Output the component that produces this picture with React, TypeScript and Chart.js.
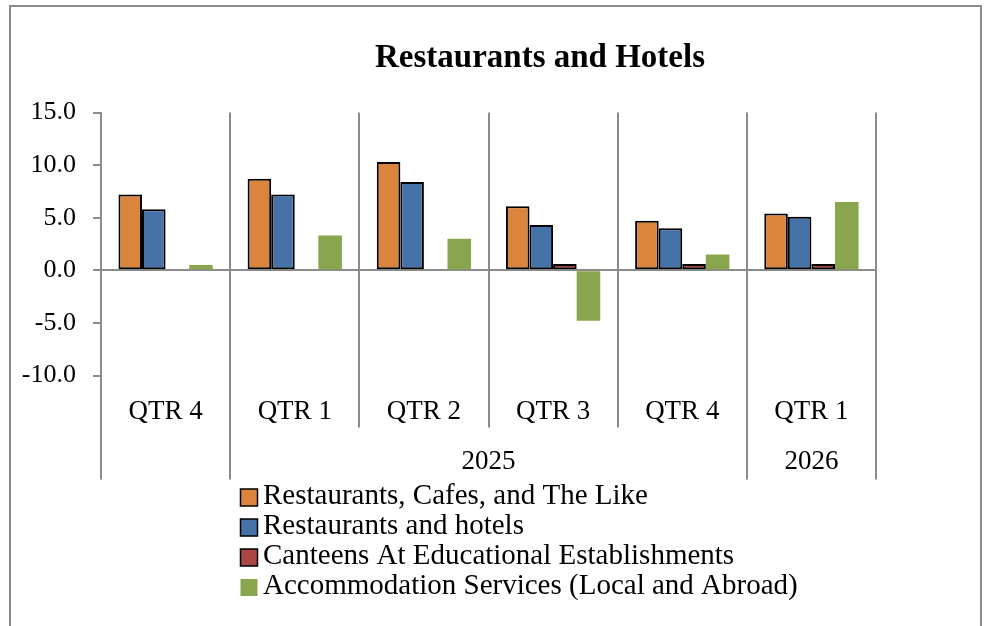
import React, { useEffect, useRef } from 'react';
import { Chart, registerables } from 'chart.js';

Chart.register(...registerables);

// ---- data ----
const quarters = ['QTR 4', 'QTR 1', 'QTR 2', 'QTR 3', 'QTR 4', 'QTR 1'];
const quarterYears = ['', '2025', '2025', '2025', '2025', '2026'];
const restaurantsCafes = [7.2, 8.7, 10.3, 6.1, 4.7, 5.4];
const restaurantsHotels = [5.8, 7.2, 8.4, 4.3, 4.0, 5.1];
const canteens = [null, null, null, 0.6, 0.6, 0.6];
const accommodation = [0.5, 3.3, 3.0, -4.8, 1.5, 6.5];
const seriesNames = [
  'Restaurants, Cafes, and The Like',
  'Restaurants and hotels',
  'Canteens At Educational Establishments',
  'Accommodation Services (Local and Abroad)',
];
const yTicks = [15, 10, 5, 0, -5, -10];
const chartTitle = 'Restaurants and Hotels';

// ---- styles ----
const COLORS = ['#DB843D', '#4572A7', '#AA4643', '#89A54E'];
const GRAY = '#8C8C8C';
const FONT = "'Liberation Serif', 'Times New Roman', serif";

const framePlugin = {
  id: 'frame',
  beforeDraw(chart: any) {
    const ctx = chart.ctx;
    ctx.save();
    ctx.fillStyle = '#fff';
    ctx.fillRect(0, 0, chart.width, chart.height);
    ctx.strokeStyle = GRAY;
    ctx.lineWidth = 2;
    ctx.strokeRect(10, 6, chart.width - 14, chart.height + 20);
    // title
    ctx.fillStyle = '#000';
    ctx.font = `bold 33px ${FONT}`;
    ctx.textAlign = 'center';
    ctx.textBaseline = 'alphabetic';
    ctx.fillText(chartTitle, 540, 66.5);
    ctx.restore();
  },
};

const categoryAxisPlugin = {
  id: 'multiLevelAxis',
  afterDraw(chart: any) {
    const xs = chart.scales.x;
    const { ctx, chartArea } = chart;
    const n = quarters.length;
    const edge = (i: number) =>
      i === 0
        ? chartArea.left
        : i === n
        ? chartArea.right
        : (xs.getPixelForValue(i - 1) + xs.getPixelForValue(i)) / 2;
    const shortBottom = chartArea.bottom + 52;
    const longBottom = chartArea.bottom + 104;
    ctx.save();
    ctx.strokeStyle = GRAY;
    ctx.lineWidth = 2;
    for (let i = 0; i <= n; i++) {
      const groupEdge = i === 0 || i === n || quarterYears[i] !== quarterYears[i - 1];
      const x = Math.round(edge(i));
      ctx.beginPath();
      ctx.moveTo(x, chartArea.bottom);
      ctx.lineTo(x, groupEdge ? longBottom : shortBottom);
      ctx.stroke();
    }
    ctx.fillStyle = '#000';
    ctx.font = `27px ${FONT}`;
    ctx.textAlign = 'center';
    ctx.textBaseline = 'middle';
    let start = 0;
    for (let i = 1; i <= n; i++) {
      if (i === n || quarterYears[i] !== quarterYears[start]) {
        if (quarterYears[start]) {
          ctx.fillText(quarterYears[start], (edge(start) + edge(i)) / 2, chartArea.bottom + 86);
        }
        start = i;
      }
    }
    ctx.restore();
  },
};

const listLegendPlugin = {
  id: 'listLegend',
  afterDraw(chart: any) {
    const { ctx, chartArea } = chart;
    const boxX = 240.5;
    const box = 17;
    const rowH = 30;
    const y0 = chartArea.bottom + 121;
    ctx.save();
    chart.data.datasets.forEach((ds: any, i: number) => {
      const cy = y0 + i * rowH;
      ctx.fillStyle = ds.backgroundColor;
      ctx.fillRect(boxX, cy - box / 2 + 1, box, box);
      if (ds.borderWidth) {
        ctx.strokeStyle = '#000';
        ctx.lineWidth = 1.5;
        ctx.strokeRect(boxX, cy - box / 2 + 1, box, box);
      }
      ctx.fillStyle = '#000';
      ctx.font = `29px ${FONT}`;
      ctx.textAlign = 'left';
      ctx.textBaseline = 'middle';
      ctx.fillText(ds.label, boxX + 22.5, cy);
    });
    ctx.restore();
  },
};

export default function App() {
  const canvasRef = useRef<HTMLCanvasElement | null>(null);

  useEffect(() => {
    const canvas = canvasRef.current;
    if (!canvas) return;
    const values = [restaurantsCafes, restaurantsHotels, canteens, accommodation];
    const chart = new Chart(canvas, {
      type: 'bar',
      data: {
        labels: quarters,
        datasets: values.map((data, i) => ({
          label: seriesNames[i],
          data: data as any,
          backgroundColor: COLORS[i],
          borderColor: '#000',
          borderWidth: i === 3 ? 0 : 2,
          borderSkipped: false,
          categoryPercentage: 0.73,
          barPercentage: 1.0,
        })),
      },
      options: {
        responsive: false,
        animation: false,
        devicePixelRatio: 1,
        layout: { padding: { left: 0, right: 0, top: 112.5, bottom: 0 } },
        plugins: {
          legend: { display: false },
          tooltip: { enabled: false },
          title: { display: false },
        },
        scales: {
          x: {
            grid: { offset: true, color: GRAY, lineWidth: 2, drawTicks: false },
            border: { display: false },
            ticks: {
              color: '#000',
              font: { family: FONT, size: 27 },
              padding: 20,
              maxRotation: 0,
              autoSkip: false,
            },
            afterFit: (s: any) => {
              s.height = 250.5;
            },
          },
          y: {
            min: -10,
            max: 15,
            afterBuildTicks: (s: any) => {
              s.ticks = yTicks.map((v) => ({ value: v }));
            },
            ticks: {
              color: '#000',
              font: { family: FONT, size: 26 },
              padding: 17,
              callback: (v: any) => Number(v).toFixed(1),
            },
            grid: {
              color: (c: any) => (c.tick && c.tick.value === 0 ? GRAY : 'rgba(0,0,0,0)'),
              tickColor: GRAY,
              tickLength: 8,
              lineWidth: 2,
            },
            border: { display: true, color: GRAY, width: 2 },
            afterFit: (s: any) => {
              s.width = 101;
            },
          },
          yPad: {
            position: 'right',
            display: true,
            grid: { display: false },
            border: { display: false },
            ticks: { display: false },
            afterFit: (s: any) => {
              s.width = 109;
            },
          },
        },
      } as any,
      plugins: [framePlugin, categoryAxisPlugin, listLegendPlugin],
    });
    return () => chart.destroy();
  }, []);

  return (
    <div style={{ position: 'fixed', left: 0, top: 0, width: 985, height: 626, background: '#fff' }}>
      <canvas ref={canvasRef} width={985} height={626} style={{ display: 'block', width: 985, height: 626 }} />
    </div>
  );
}
